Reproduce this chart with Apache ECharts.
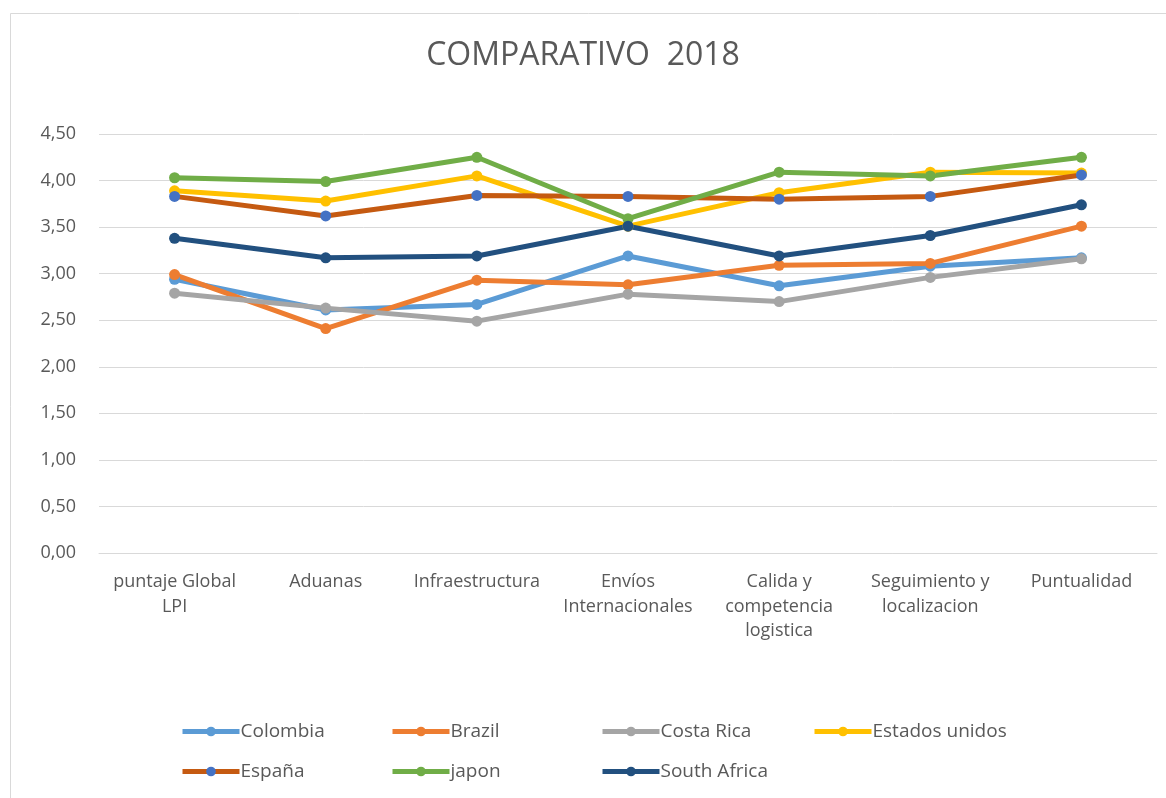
<!DOCTYPE html>
<html>
<head>
<meta charset="utf-8">
<script src="https://cdn.jsdelivr.net/npm/echarts@6/dist/echarts.min.js"></script>
<style>
  html, body { margin: 0; padding: 0; background: #ffffff; }
  #chart { width: 1166px; height: 798px; }
</style>
</head>
<body>
<div id="chart"></div>
<script>
// LPI 2018 indicators per country
const categories = [
  'puntaje Global\nLPI',
  'Aduanas',
  'Infraestructura',
  'Envíos\nInternacionales',
  'Calida y\ncompetencia\nlogistica',
  'Seguimiento y\nlocalizacion',
  'Puntualidad'
];
const yTicks = { min: 0, max: 4.5, interval: 0.5 };

const colombia      = [2.94, 2.61, 2.67, 3.19, 2.87, 3.08, 3.17];
const brazil        = [2.99, 2.41, 2.93, 2.88, 3.09, 3.11, 3.51];
const costaRica     = [2.79, 2.63, 2.49, 2.78, 2.70, 2.96, 3.16];
const estadosUnidos = [3.89, 3.78, 4.05, 3.51, 3.87, 4.09, 4.08];
const espana        = [3.83, 3.62, 3.84, 3.83, 3.80, 3.83, 4.06];
const japon         = [4.03, 3.99, 4.25, 3.59, 4.09, 4.05, 4.25];
const southAfrica   = [3.38, 3.17, 3.19, 3.51, 3.19, 3.41, 3.74];

const FONT = "'Open Sans', 'Noto Sans', sans-serif";
const TEXT = '#595959';

// name, values, line colour, marker colour, legend position
const seriesDefs = [
  ['Colombia',       colombia,      '#5B9BD5', '#5B9BD5', 180, 722],
  ['Brazil',         brazil,        '#ED7D31', '#ED7D31', 390, 722],
  ['Costa Rica',     costaRica,     '#A5A5A5', '#A5A5A5', 600, 722],
  ['Estados unidos', estadosUnidos, '#FFC000', '#FFC000', 812, 722],
  ['España',         espana,        '#C55A11', '#4472C4', 180, 762],
  ['japon',          japon,         '#70AD47', '#70AD47', 390, 762],
  ['South Africa',   southAfrica,   '#22507F', '#22507F', 600, 762]
];

const chart = echarts.init(document.getElementById('chart'), null, { renderer: 'canvas' });

chart.setOption({
  animation: false,
  backgroundColor: '#ffffff',
  graphic: [{
    type: 'rect',
    shape: { x: 10.5, y: 13.5, width: 1300, height: 1000 },
    style: { fill: 'none', stroke: '#D9D9D9', lineWidth: 1 },
    silent: true,
    z: -10
  }],
  title: {
    text: 'COMPARATIVO  2018',
    left: 'center',
    top: 35,
    textStyle: { fontFamily: FONT, fontSize: 32, fontWeight: 'normal', color: TEXT }
  },
  legend: seriesDefs.map(d => ({
    data: [d[0]],
    left: d[4],
    top: d[5],
    padding: 0,
    itemWidth: 57,
    itemHeight: 12,
    lineStyle: { width: 5 },
    textStyle: { fontFamily: FONT, fontSize: 19, color: TEXT, padding: [0, 0, 0, -4] }
  })),
  grid: { left: 99, right: 9, top: 134, bottom: 245, containLabel: false },
  xAxis: {
    type: 'category',
    data: categories,
    boundaryGap: true,
    axisLine: { show: true, lineStyle: { color: '#D9D9D9' } },
    axisTick: { show: false },
    axisLabel: {
      interval: 0,
      margin: 17,
      fontFamily: FONT,
      fontSize: 18,
      color: TEXT,
      lineHeight: 24.5,
      align: 'center'
    }
  },
  yAxis: {
    type: 'value',
    min: yTicks.min,
    max: yTicks.max,
    interval: yTicks.interval,
    axisLine: { show: false },
    axisTick: { show: false },
    splitLine: { lineStyle: { color: '#D9D9D9', width: 1 } },
    axisLabel: {
      margin: 23,
      fontFamily: FONT,
      fontSize: 18,
      color: TEXT,
      formatter: v => v.toFixed(2).replace('.', ',')
    }
  },
  series: seriesDefs.map(d => ({
    name: d[0],
    type: 'line',
    data: d[1],
    symbol: 'circle',
    symbolSize: 11,
    showSymbol: true,
    lineStyle: { color: d[2], width: 5 },
    itemStyle: { color: d[3], borderWidth: 0 }
  }))
});
</script>
</body>
</html>
